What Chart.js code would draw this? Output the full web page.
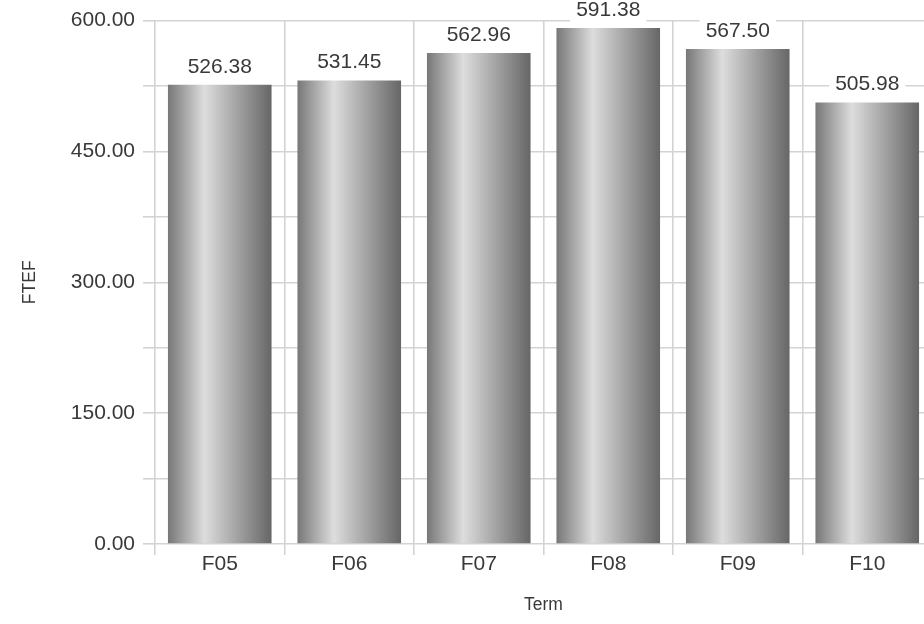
<!DOCTYPE html>
<html>
<head>
<meta charset="utf-8">
<script src="https://cdn.jsdelivr.net/npm/chart.js@4/dist/chart.umd.min.js"></script>
<style>
  html, body { margin: 0; padding: 0; background: #fff; overflow: hidden; }
  #wrap { width: 940px; height: 624px; }
</style>
</head>
<body>
<div id="wrap"><canvas id="chart" width="940" height="624"></canvas></div>
<script>
const terms = ['F05', 'F06', 'F07', 'F08', 'F09', 'F10'];
const ftef = [526.38, 531.45, 562.96, 591.38, 567.50, 505.98];
const yMin = 0;
const yMax = 600;
const yStep = 75;       // minor grid step
const yLabelStep = 150; // labelled ticks

const FONT = '"Liberation Sans", Arial, Helvetica, sans-serif';
const TEXT = '#393939';
const GRID = '#d3d3d3';

// horizontal metal-look gradient for each bar
function barFill(ctx) {
  const chart = ctx.chart;
  const xs = chart.scales.x;
  if (!chart.chartArea || !xs) return '#aaaaaa';
  const cx = xs.getPixelForValue(ctx.dataIndex);
  const w = (xs.width / terms.length) * 0.8;
  const g = chart.ctx.createLinearGradient(cx - w / 2, 0, cx + w / 2, 0);
  g.addColorStop(0, '#777777');
  g.addColorStop(0.35, '#dddddd');
  g.addColorStop(1, '#666666');
  return g;
}

// value labels in white boxes above the bars
const barLabels = {
  id: 'barLabels',
  afterDatasetsDraw(chart) {
    const c = chart.ctx;
    const meta = chart.getDatasetMeta(0);
    c.save();
    c.font = '21px ' + FONT;
    c.textAlign = 'center';
    c.textBaseline = 'middle';
    meta.data.forEach((bar, i) => {
      const txt = ftef[i].toFixed(2);
      const w = c.measureText(txt).width + 12;
      const y = bar.y - 17;
      c.fillStyle = '#ffffff';
      c.fillRect(bar.x - w / 2, y - 12, w, 24);
      c.fillStyle = TEXT;
      c.fillText(txt, bar.x, y - 1);
    });
    c.restore();
  }
};

new Chart(document.getElementById('chart'), {
  type: 'bar',
  data: {
    labels: terms,
    datasets: [{
      label: 'FTEF',
      data: ftef,
      backgroundColor: barFill,
      borderWidth: 0,
      categoryPercentage: 0.8,
      barPercentage: 1
    }]
  },
  options: {
    responsive: false,
    animation: false,
    devicePixelRatio: 1,
    layout: { padding: { top: 18, right: 8, left: 0, bottom: 0 } },
    plugins: {
      legend: { display: false },
      tooltip: { enabled: false }
    },
    scales: {
      x: {
        grid: { offset: true, color: GRID, lineWidth: 1.6, tickLength: 11, drawTicks: true },
        border: { display: false },
        ticks: { color: TEXT, font: { family: FONT, size: 21 }, padding: -3 },
        title: { display: true, text: 'Term', color: TEXT, font: { family: FONT, size: 17.5 }, padding: { top: 0, bottom: 8 } },
        afterFit(scale) { scale.height = 80; }
      },
      y: {
        min: yMin,
        max: yMax,
        grid: { color: GRID, lineWidth: 1.6, tickLength: 12 },
        border: { display: false },
        ticks: {
          stepSize: yStep,
          autoSkip: false,
          color: TEXT,
          font: { family: FONT, size: 21 },
          padding: 8,
          callback: v => (v % yLabelStep === 0 ? v.toFixed(2) : '')
        },
        title: { display: true, text: 'FTEF', color: TEXT, font: { family: FONT, size: 17.5 }, padding: { top: 20, bottom: 0 } },
        afterFit(scale) { scale.width = 155; }
      }
    }
  },
  plugins: [barLabels]
});
</script>
</body>
</html>
